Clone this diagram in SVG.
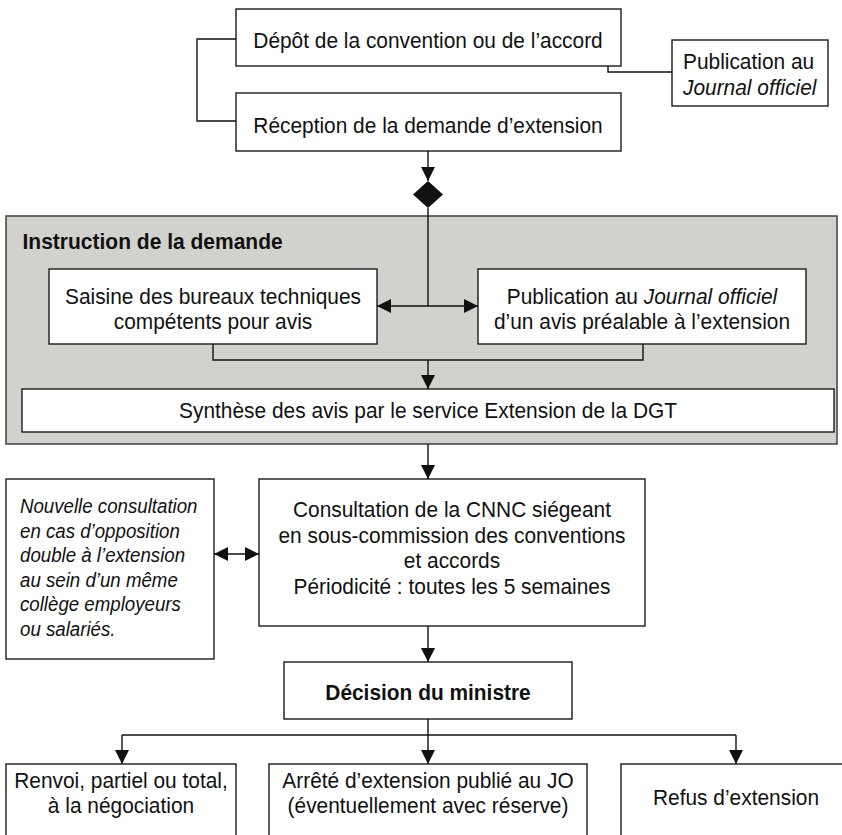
<svg xmlns="http://www.w3.org/2000/svg" width="842" height="835" viewBox="0 0 842 835">
<defs>
<style>
.box{fill:#fff;stroke:#1a1a1a;stroke-width:1.4}
.grp{fill:#d1d1cd;stroke:#4a4a4a;stroke-width:1.6}
.ln{fill:none;stroke:#111;stroke-width:1.4}
.t{font-family:"Liberation Sans",Arial,sans-serif;font-size:22px;fill:#111;text-anchor:middle}
.tl{font-family:"Liberation Sans",Arial,sans-serif;font-size:22px;fill:#111}
.b{font-weight:bold}
.i{font-style:italic}
.n{font-family:"Liberation Sans",Arial,sans-serif;font-size:21px;font-style:italic;fill:#111}
</style>
<marker id="ah" viewBox="0 0 14 14" refX="14" refY="7" markerWidth="14" markerHeight="14" markerUnits="userSpaceOnUse" orient="auto-start-reverse">
<path d="M0,0 L14,7 L0,14 z" fill="#111"/>
</marker>
</defs>
<rect width="842" height="835" fill="#fff"/>

<g id="instruction-group">
<rect class="grp" x="6" y="216" width="831" height="228"/>
<text class="tl b" transform="translate(22.5,249) scale(0.955,1)">Instruction de la demande</text>
</g>

<g id="connectors">
<path class="ln" d="M236,39 H197 V121 H236"/>
<path class="ln" d="M608,66 V72 H672"/>
<line class="ln" x1="428" y1="151" x2="428" y2="181" marker-end="url(#ah)"/>
<line class="ln" x1="428" y1="208" x2="428" y2="306"/>
<line class="ln" x1="377" y1="306" x2="478" y2="306" marker-start="url(#ah)" marker-end="url(#ah)"/>
<path class="ln" d="M213,344 V360 H643 V344"/>
<line class="ln" x1="428" y1="360" x2="428" y2="389" marker-end="url(#ah)"/>
<line class="ln" x1="428" y1="444" x2="428" y2="479" marker-end="url(#ah)"/>
<line class="ln" x1="214" y1="554" x2="259" y2="554" marker-start="url(#ah)" marker-end="url(#ah)"/>
<line class="ln" x1="428" y1="626" x2="428" y2="662" marker-end="url(#ah)"/>
<line class="ln" x1="428" y1="719" x2="428" y2="735"/>
<line class="ln" x1="122" y1="735" x2="736" y2="735"/>
<line class="ln" x1="122" y1="735" x2="122" y2="764" marker-end="url(#ah)"/>
<line class="ln" x1="428" y1="735" x2="428" y2="764" marker-end="url(#ah)"/>
<line class="ln" x1="736" y1="735" x2="736" y2="764" marker-end="url(#ah)"/>
</g>

<g id="diamond">
<polygon points="428,181 443,194.5 428,208 413,194.5" fill="#111"/>
</g>

<g id="depot">
<rect class="box" x="236" y="9" width="385" height="57"/>
<text class="t" transform="translate(428,48) scale(0.95,1)">Dépôt de la convention ou de l’accord</text>
</g>

<g id="publication">
<rect class="box" x="672" y="40" width="156" height="66"/>
<text class="tl" transform="translate(683,69) scale(0.95,1)">Publication au</text>
<text class="tl i" transform="translate(683,95) scale(0.95,1)">Journal officiel</text>
</g>

<g id="reception">
<rect class="box" x="236" y="93" width="385" height="58"/>
<text class="t" transform="translate(428,133) scale(0.95,1)">Réception de la demande d’extension</text>
</g>

<g id="saisine">
<rect class="box" x="49" y="269" width="328" height="75"/>
<text class="t" transform="translate(213,304) scale(0.95,1)">Saisine des bureaux techniques</text>
<text class="t" transform="translate(213,329) scale(0.95,1)">compétents pour avis</text>
</g>

<g id="publication-avis">
<rect class="box" x="478" y="269" width="328" height="75"/>
<text class="t" transform="translate(642,304) scale(0.95,1)">Publication au <tspan class="i">Journal officiel</tspan></text>
<text class="t" transform="translate(642,329) scale(0.95,1)">d’un avis préalable à l’extension</text>
</g>

<g id="synthese">
<rect class="box" x="22" y="389" width="812" height="43"/>
<text class="t" transform="translate(428,418) scale(0.95,1)">Synthèse des avis par le service Extension de la DGT</text>
</g>

<g id="nouvelle">
<rect class="box" x="6" y="479" width="208" height="180"/>
<text class="n" transform="translate(20,513) scale(0.89,1)">Nouvelle consultation</text>
<text class="n" transform="translate(20,537.5) scale(0.89,1)">en cas d’opposition</text>
<text class="n" transform="translate(20,562) scale(0.89,1)">double à l’extension</text>
<text class="n" transform="translate(20,586.5) scale(0.89,1)">au sein d’un même</text>
<text class="n" transform="translate(20,611) scale(0.89,1)">collège employeurs</text>
<text class="n" transform="translate(20,635.5) scale(0.89,1)">ou salariés.</text>
</g>

<g id="consultation">
<rect class="box" x="259" y="479" width="386" height="147"/>
<text class="t" transform="translate(452,517) scale(0.95,1)">Consultation de la CNNC siégeant</text>
<text class="t" transform="translate(452,542.5) scale(0.95,1)">en sous-commission des conventions</text>
<text class="t" transform="translate(452,568) scale(0.95,1)">et accords</text>
<text class="t" transform="translate(452,593.5) scale(0.95,1)">Périodicité : toutes les 5 semaines</text>
</g>

<g id="decision">
<rect class="box" x="284" y="662" width="288" height="57"/>
<text class="t b" transform="translate(428,700) scale(0.95,1)">Décision du ministre</text>
</g>

<g id="renvoi">
<rect class="box" x="6" y="764" width="230" height="90"/>
<text class="t" transform="translate(121,788) scale(0.95,1)">Renvoi, partiel ou total,</text>
<text class="t" transform="translate(121,813) scale(0.95,1)">à la négociation</text>
</g>

<g id="arrete">
<rect class="box" x="269" y="764" width="318" height="90"/>
<text class="t" transform="translate(428,788) scale(0.95,1)">Arrêté d’extension publié au JO</text>
<text class="t" transform="translate(428,813) scale(0.95,1)">(éventuellement avec réserve)</text>
</g>

<g id="refus">
<rect class="box" x="621" y="764" width="240" height="90"/>
<text class="t" transform="translate(736,805) scale(0.95,1)">Refus d’extension</text>
</g>
</svg>
